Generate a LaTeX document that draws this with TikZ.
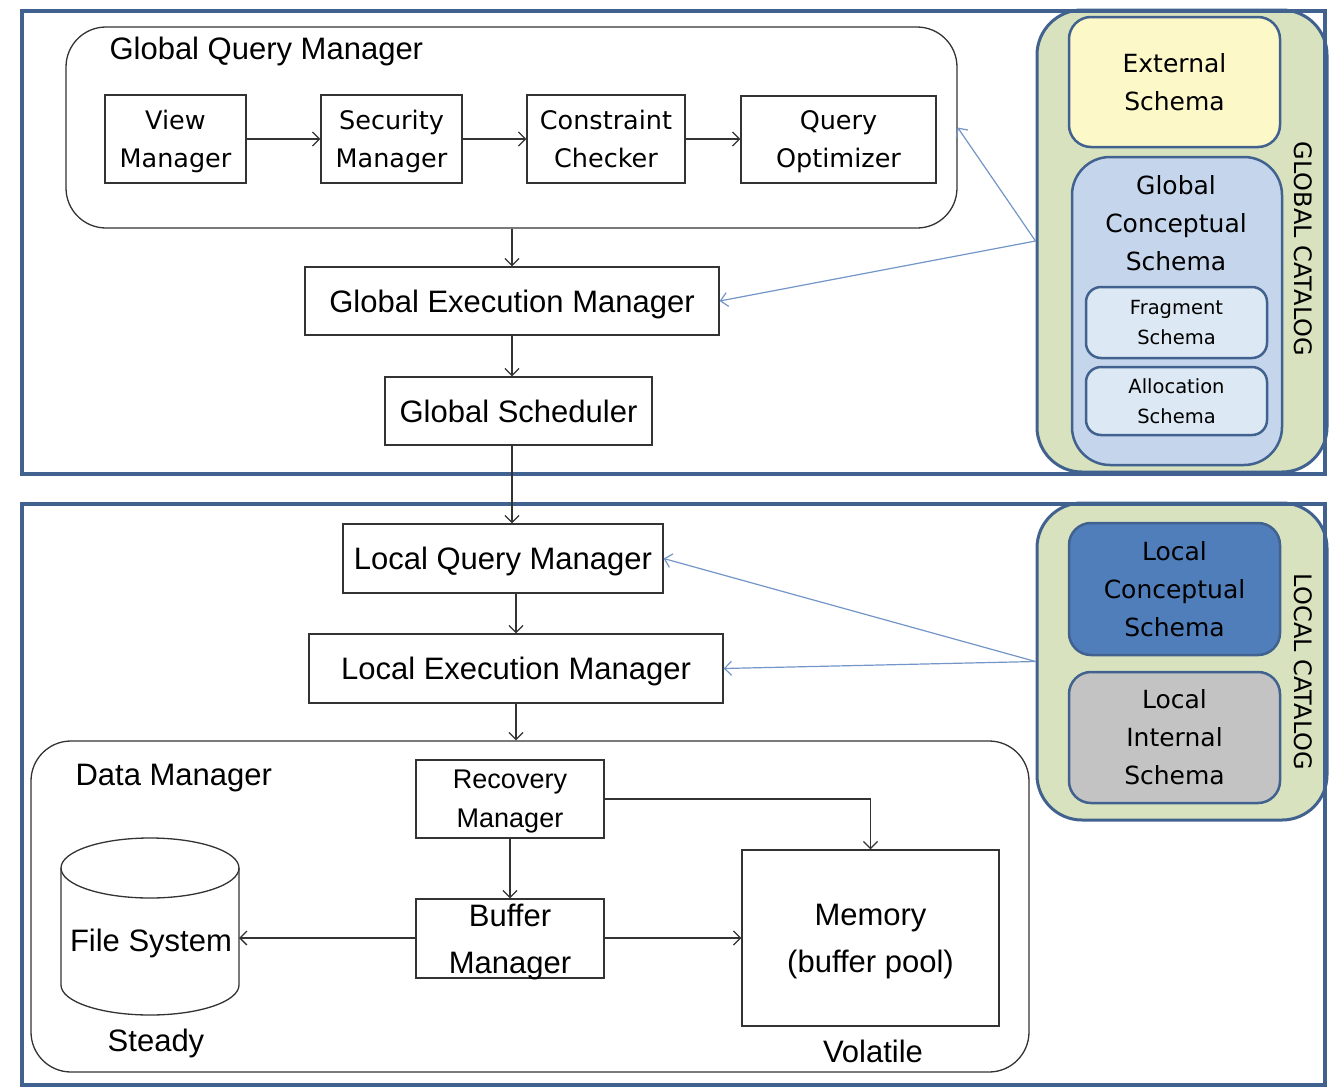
\documentclass[tikz,border=0pt]{standalone}
\usepackage{fontspec}
\setmainfont{Liberation Sans}
\newfontfamily\schemafont{DejaVu Sans}
\usetikzlibrary{arrows.meta,positioning}

\definecolor{framecol}{HTML}{41618F}
\definecolor{catfill}{HTML}{D8E2BE}
\definecolor{extfill}{HTML}{FDF8C8}
\definecolor{gcsfill}{HTML}{C5D5EC}
\definecolor{fragfill}{HTML}{DCE8F3}
\definecolor{lcsfill}{HTML}{4F7EBB}
\definecolor{lisfill}{HTML}{C3C3C3}
\definecolor{lookupcol}{HTML}{7395C8}

\tikzset{
  >={Straight Barb[length=7pt,width=14pt]},
  frame/.style={draw=framecol, line width=3.5pt},
  plain/.style={draw=black!80, line width=1.3pt, fill=white, inner sep=0pt, align=center, text depth=0pt},
  mgr/.style={plain, font=\fontsize{31}{47}\selectfont},
  submgr/.style={plain, font=\schemafont\fontsize{25.5}{38}\selectfont, minimum height=88pt},
  container/.style={draw=black!80, line width=1.3pt, rounded corners=40pt, inner sep=0pt},
  catalog/.style={draw=framecol, line width=3pt, fill=catfill, rounded corners=45pt, inner sep=0pt},
  schema/.style={draw=framecol, line width=2.5pt, rounded corners=22pt, inner sep=0pt, align=center,
    font=\schemafont\fontsize{25}{38}\selectfont},
  smallschema/.style={schema, fill=fragfill, rounded corners=15pt, font=\schemafont\fontsize{19.5}{30}\selectfont},
  catlabel/.style={rotate=-90, font=\schemafont\fontsize{24}{30}\selectfont},
  caption/.style={font=\fontsize{31}{38}\selectfont},
  flow/.style={->, draw=black!80, line width=1.3pt},
  lookup/.style={->, draw=lookupcol, line width=1.2pt},
}

\begin{document}
\begin{tikzpicture}[x=1pt, y=-1pt]
\useasboundingbox (0,0) rectangle (1334,1090);

% catalogs
\node[catalog, minimum width=290pt, minimum height=462pt] (gcat) at (1182,241) {};
\node[schema, fill=extfill, minimum width=211pt, minimum height=130pt] (ext) at (1174.5,82) {External\\Schema};
\node[schema, fill=gcsfill, rounded corners=38pt, minimum width=210pt, minimum height=308pt] (gcs) at (1177,311) {};
\node[align=center, font=\schemafont\fontsize{25}{38}\selectfont] (gcstext) at (1176,223) {Global\\Conceptual\\Schema};
\node[smallschema, minimum width=181pt, minimum height=71pt] (frag) at (1176.5,322.5) {Fragment\\Schema};
\node[smallschema, minimum width=181pt, minimum height=68pt] (alloc) at (1176.5,401) {Allocation\\Schema};
\node[catlabel] (gcatlabel) at (1303,249) {GLOBAL CATALOG};

\node[catalog, minimum width=290pt, minimum height=317pt] (lcat) at (1182,661.5) {};
\node[schema, fill=lcsfill, minimum width=211pt, minimum height=132pt] (lcs) at (1174.5,589) {Local\\Conceptual\\Schema};
\node[schema, fill=lisfill, minimum width=211pt, minimum height=131pt] (lis) at (1174.5,737.5) {Local\\Internal\\Schema};
\node[catlabel] (lcatlabel) at (1303,672) {LOCAL CATALOG};

% site frames
\draw[frame] (22,11) rectangle (1325,474);
\draw[frame] (22,504) rectangle (1325,1085);

% global part
\node[container, minimum width=891pt, minimum height=201pt] (gqm) at (511.5,127.5) {};
\node[caption, anchor=west] (gqmlabel) at (106,51) {Global Query Manager};
\node[submgr, minimum width=141pt] (view) at (175.5,139) {View\\Manager};
\node[submgr, minimum width=141pt] (secu) at (391.5,139) {Security\\Manager};
\node[submgr, minimum width=158pt] (cons) at (606,139) {Constraint\\Checker};
\node[submgr, minimum width=195pt, minimum height=87pt] (opti) at (838.5,139.5) {Query\\Optimizer};
\node[mgr, minimum width=414pt, minimum height=68pt] (gem) at (512,301) {Global Execution Manager};
\node[mgr, minimum width=267pt, minimum height=68pt] (gsch) at (518.5,411) {Global Scheduler};

% local part
\node[mgr, minimum width=320pt, minimum height=69pt] (lqm) at (503,558.5) {Local Query Manager};
\node[mgr, minimum width=414pt, minimum height=69pt] (lem) at (516,668.5) {Local Execution Manager};

% data manager
\node[container, minimum width=998pt, minimum height=331pt] (dm) at (530,906.5) {};
\node[caption, anchor=west] (dmlabel) at (72,778) {Data Manager};
\node[plain, font=\fontsize{27}{39}\selectfont, minimum width=188pt, minimum height=78pt] (rec) at (510,799) {Recovery\\Manager};
\node[mgr, minimum width=188pt, minimum height=79pt] (buf) at (510,938.5) {Buffer\\Manager};
\node[mgr, minimum width=257pt, minimum height=176pt] (mem) at (870.5,938) {Memory\\(buffer pool)};
\node[caption] (volatile) at (873,1051) {Volatile};

% file system drum
\draw[black!80, line width=1.3pt, fill=white] (61,868) -- (61,985)
  arc[start angle=180, end angle=360, x radius=89pt, y radius=30pt] -- (239,868);
\draw[black!80, line width=1.3pt] (150,868) ellipse [x radius=89pt, y radius=30pt];
\node[caption] (fs) at (151,943) {File System};
\coordinate (fsport) at (239,938);
\node[caption] (steady) at (156,1043) {Steady};

% control flow
\draw[flow] (view.east) -- (secu.west);
\draw[flow] (secu.east) -- (cons.west);
\draw[flow] (cons.east) -- (opti.west |- cons.east);
\draw[flow] (gem.north |- gqm.south) -- (gem.north);
\draw[flow] (gem.south) -- (gem.south |- gsch.north);
\draw[flow] (gsch.south -| gem.south) -- (gem.south |- lqm.north);
\draw[flow] (lqm.south -| lem.north) -- (lem.north);
\draw[flow] (lem.south) -- (lem.south |- dm.north);
\draw[flow] (rec.south) -- (buf.north);
\draw[flow] (rec.east) -| (mem.north);
\draw[flow] (buf.west |- fsport) -- (fsport);
\draw[flow] (buf.east |- mem.west) -- (mem.west);

% catalog lookups
\draw[lookup] (gcat.west) -- (gqm.east);
\draw[lookup] (gcat.west) -- (gem.east);
\draw[lookup] (lcat.west) -- (lqm.east);
\draw[lookup] (lcat.west) -- (lem.east);
\end{tikzpicture}
\end{document}
